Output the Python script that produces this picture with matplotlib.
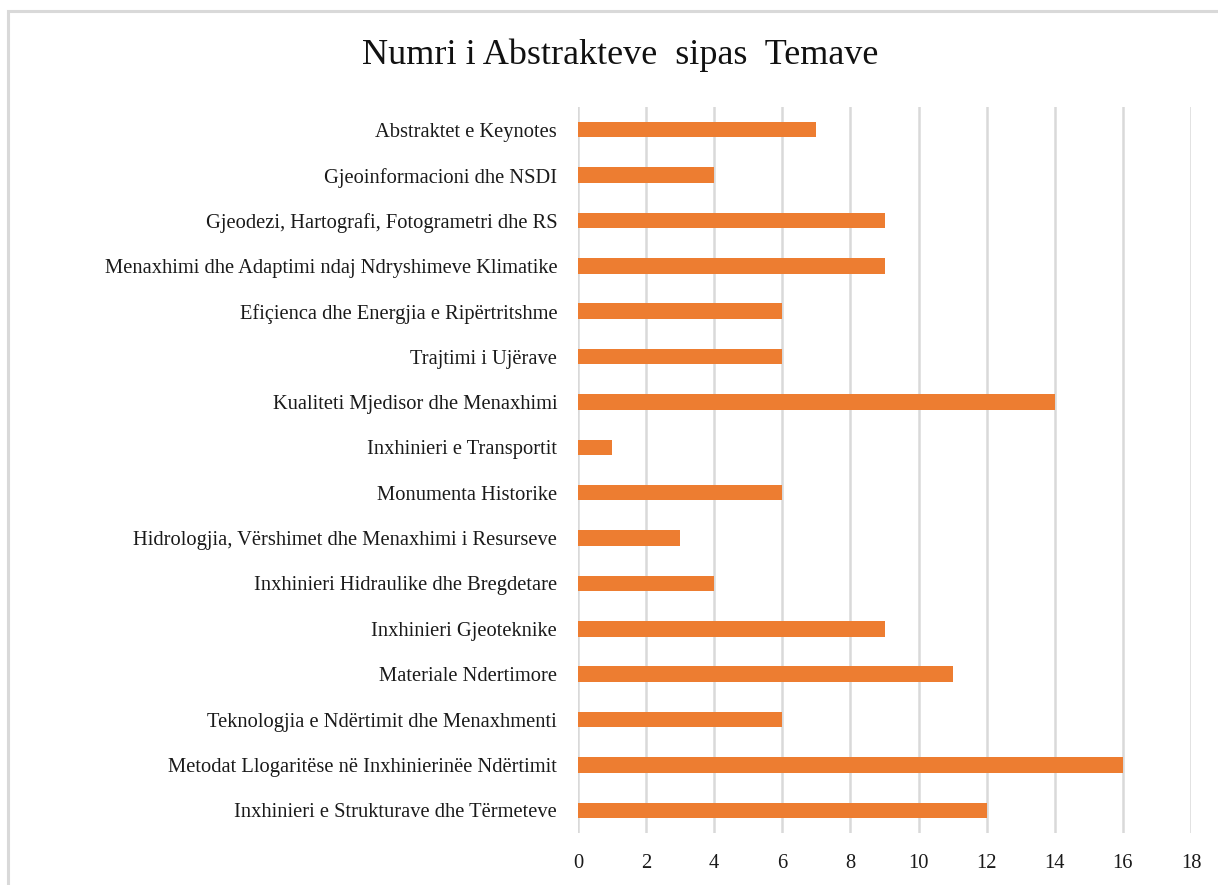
import matplotlib
matplotlib.use("Agg")
import matplotlib.pyplot as plt
from matplotlib.patches import Rectangle

categories = [
    "Abstraktet e Keynotes",
    "Gjeoinformacioni dhe NSDI",
    "Gjeodezi, Hartografi, Fotogrametri dhe RS",
    "Menaxhimi dhe Adaptimi ndaj Ndryshimeve Klimatike",
    "Efiçienca dhe Energjia e Ripërtritshme",
    "Trajtimi i Ujërave",
    "Kualiteti Mjedisor dhe Menaxhimi",
    "Inxhinieri e Transportit",
    "Monumenta Historike",
    "Hidrologjia, Vërshimet dhe Menaxhimi i Resurseve",
    "Inxhinieri Hidraulike dhe Bregdetare",
    "Inxhinieri Gjeoteknike",
    "Materiale Ndertimore",
    "Teknologjia e Ndërtimit dhe Menaxhmenti",
    "Metodat Llogaritëse në Inxhinierinëe Ndërtimit",
    "Inxhinieri e Strukturave dhe Tërmeteve",
]
values = [7, 4, 9, 9, 6, 6, 14, 1, 6, 3, 4, 9, 11, 6, 16, 12]
xticks = [0, 2, 4, 6, 8, 10, 12, 14, 16, 18]

plt.rcParams['font.family'] = ['Liberation Serif', 'DejaVu Serif']

fig = plt.figure(figsize=(12.18, 8.85), dpi=100)
W, H = 1218, 885
# outer chart border
fig.patches.append(Rectangle((8 / W, -0.05), 1.1, 1 - 11 / H + 0.05,
                             transform=fig.transFigure, fill=False,
                             edgecolor='#d9d9d9', linewidth=2.2))

ax = fig.add_axes([578 / W, 1 - 833 / H, (1191 - 578) / W, (833 - 107) / H])
n = len(categories)
ypos = list(range(n))
ax.barh(ypos, values, height=0.34, color='#ED7D31', zorder=3)
ax.set_ylim(n - 0.5, -0.5)
ax.set_xlim(0, 18)
ax.set_xticks(xticks)
ax.set_xticklabels([str(t) for t in xticks])
ax.set_yticks(ypos)
ax.set_yticklabels(categories)
ax.tick_params(axis='y', length=0, pad=15, labelsize=14.8, labelcolor='#1a1a1a')
ax.tick_params(axis='x', length=0, pad=15, labelsize=14.8, labelcolor='#1a1a1a')
ax.grid(axis='x', color='#d9d9d9', linewidth=1.8, zorder=0)
ax.grid(axis='y', visible=False)
for s in ax.spines.values():
    s.set_visible(False)

fig.text(620 / W, 1 - 55 / H, "Numri i Abstrakteve  sipas  Temave", ha='center',
         va='center', fontsize=26, color='#111111')

fig.savefig("out.png", dpi=100, facecolor='white')
